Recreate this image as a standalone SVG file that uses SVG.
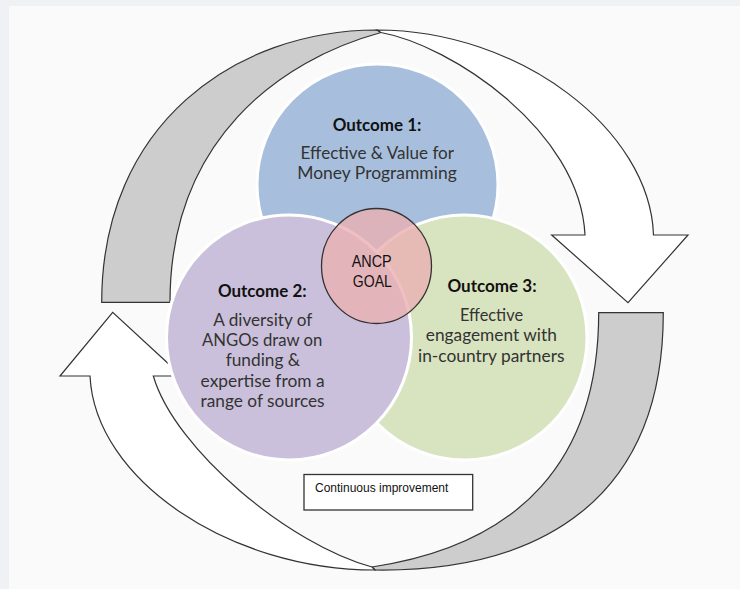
<svg xmlns="http://www.w3.org/2000/svg" width="740" height="589" viewBox="0 0 740 589">
  <style>
    .arrow { stroke: #333; stroke-width: 1.2; stroke-linejoin: miter; }
    .back { fill: #cdcdcd; }
    .front { fill: #ffffff; }
    .circ { stroke: #ffffff; stroke-width: 3; }
    .h { font-family: Lato, "Open Sans", "Liberation Sans", sans-serif; font-weight: bold; font-size: 16.5px; fill: #111; text-anchor: middle; }
    .t { font-family: Lato, "Open Sans", "Liberation Sans", sans-serif; font-size: 16.5px; fill: #333; text-anchor: middle; }
    .n { font-family: "Liberation Sans Narrow", "Liberation Sans", sans-serif; fill: #111; }
  </style>
  <rect x="0" y="0" width="740" height="589" fill="#eff1f5"/>
  <rect x="9" y="6" width="731" height="583" fill="#fafafa"/>

  <g id="connectors">
    <path class="arrow back" d="M101.7,302.3 C101.7,125 235,30 377,30 L381,32.5 C280,60 170,140 170,302.3 Z"/>
    <path class="arrow front" d="M377,30 C520,30 650,130 653.5,235 L688,235 L628,302.7 L551.7,235 L585,235 C580,130 450,45 381,32.5 Z"/>
    <path class="arrow back" d="M663.3,312.7 C663.3,500 540,572 375,570 L372,567 C520,545 598.7,460 598.7,312.7 Z"/>
    <path class="arrow front" d="M375,570 C230,570 95,480 90,376 L60,376 L112.7,312.3 L181.7,376 L153.3,376 C175,450 290,545 372,567 Z"/>
  </g>

  <g id="outcome1">
    <circle class="circ" cx="377.5" cy="184.5" r="120.5" fill="#a7bfdc"/>
  </g>
  <g id="outcome3">
    <circle class="circ" cx="464.5" cy="337.5" r="122.5" fill="#d8e3bf"/>
  </g>
  <g id="outcome2">
    <circle class="circ" cx="289" cy="337.5" r="122.5" fill="#cbc0db"/>
  </g>

  <g id="outcome1-text">
    <text class="h" x="377" y="130.5" textLength="88.7" lengthAdjust="spacingAndGlyphs">Outcome 1:</text>
    <text class="t" x="377.3" y="158.5" textLength="153.4" lengthAdjust="spacingAndGlyphs">Effective &amp; Value for</text>
    <text class="t" x="377" y="178.5" textLength="159.5" lengthAdjust="spacingAndGlyphs">Money Programming</text>
  </g>
  <g id="outcome2-text">
    <text class="h" x="262.3" y="296.7" textLength="88.7" lengthAdjust="spacingAndGlyphs">Outcome 2:</text>
    <text class="t" x="262.8" y="326.3" textLength="99" lengthAdjust="spacingAndGlyphs">A diversity of</text>
    <text class="t" x="262.2" y="346" textLength="120.3" lengthAdjust="spacingAndGlyphs">ANGOs draw on</text>
    <text class="t" x="262.9" y="366.3" textLength="74.5" lengthAdjust="spacingAndGlyphs">funding &amp;</text>
    <text class="t" x="262.6" y="386.5" textLength="124" lengthAdjust="spacingAndGlyphs">expertise from a</text>
    <text class="t" x="262.6" y="406.7" textLength="124" lengthAdjust="spacingAndGlyphs">range of sources</text>
  </g>
  <g id="outcome3-text">
    <text class="h" x="492" y="291.7" textLength="89.2" lengthAdjust="spacingAndGlyphs">Outcome 3:</text>
    <text class="t" x="491.5" y="320.7" textLength="63" lengthAdjust="spacingAndGlyphs">Effective</text>
    <text class="t" x="491.3" y="341" textLength="131" lengthAdjust="spacingAndGlyphs">engagement with</text>
    <text class="t" x="491.2" y="361.5" textLength="146.4" lengthAdjust="spacingAndGlyphs">in-country partners</text>
  </g>

  <g id="goal">
    <ellipse cx="376.5" cy="266" rx="55" ry="57.5" fill="#eab0b3" fill-opacity="0.8" stroke="#333" stroke-width="1.3"/>
    <text class="n" x="371.7" y="267.3" font-size="17" text-anchor="middle" textLength="40" lengthAdjust="spacingAndGlyphs">ANCP</text>
    <text class="n" x="372.3" y="287.3" font-size="17" text-anchor="middle" textLength="39" lengthAdjust="spacingAndGlyphs">GOAL</text>
  </g>

  <g id="continuous-improvement">
    <rect x="304" y="474.5" width="168.7" height="35.5" fill="#ffffff" stroke="#333" stroke-width="1.3"/>
    <text class="n" x="315" y="491.7" font-size="13.5" textLength="133.3" lengthAdjust="spacingAndGlyphs">Continuous improvement</text>
  </g>
</svg>
